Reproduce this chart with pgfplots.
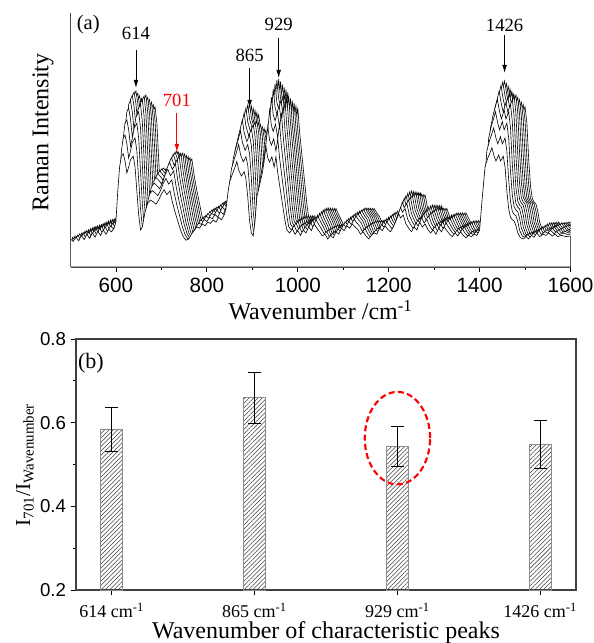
\documentclass[border=0pt]{standalone}
\usepackage{pgfplots}
\pgfplotsset{compat=1.18}
\usepackage{pgfplotstable}
\usepackage{fontspec}
\setmainfont{Liberation Serif}
\newfontfamily\arial{Liberation Sans}
\usetikzlibrary{arrows.meta,patterns.meta}

\pgfplotstableread{
x y
500 30
506 26
512 33
518 27
524 36
530 29
536 38
542 31
548 40
554 33
560 43
566 36
572 45
578 38
584 46
590 42
596 48
600 60
604 110
608 150
612 168
616 172
620 160
624 140
628 150
632 162
638 168
642 150
646 110
650 70
654 45
658 50
664 75
670 90
676 95
682 92
688 88
694 95
700 105
706 112
712 104
719 110
724 92
730 75
736 60
742 45
748 34
754 28
760 30
766 38
772 44
778 50
784 48
790 55
796 52
802 58
808 56
814 62
820 58
826 66
832 62
838 70
842 80
846 105
850 125
856 138
862 150
866 159
870 145
876 135
882 142
886 130
890 100
894 60
898 40
902 35
906 60
910 100
916 120
922 140
926 160
930 184
934 165
938 158
943 167
948 150
952 167
956 140
962 110
968 80
972 60
976 45
982 40
988 47
994 38
1000 44
1006 36
1012 45
1018 40
1024 50
1030 44
1036 55
1042 48
1048 42
1054 35
1060 38
1066 30
1072 36
1078 32
1084 42
1090 38
1096 48
1102 44
1108 52
1114 48
1120 55
1126 50
1132 46
1138 38
1144 42
1150 35
1156 30
1162 36
1168 40
1174 38
1180 48
1186 44
1192 52
1198 46
1204 42
1210 50
1216 60
1222 72
1226 65
1232 70
1238 55
1244 48
1250 42
1256 50
1262 45
1268 58
1274 50
1280 55
1286 46
1292 40
1298 45
1304 38
1310 48
1316 42
1322 50
1328 44
1334 38
1340 34
1346 40
1352 35
1358 42
1364 36
1370 32
1376 36
1382 34
1388 38
1394 36
1400 45
1406 100
1412 150
1418 165
1422 172
1427 182
1432 168
1436 160
1442 170
1446 160
1452 168
1456 150
1460 110
1464 80
1468 66
1472 62
1476 60
1480 52
1484 40
1490 32
1496 30
1502 34
1508 30
1514 36
1520 33
1526 40
1532 34
1540 38
1546 36
1552 40
1560 35
1566 38
1572 34
1580 36
1590 34
1600 35
}\base

\pgfplotstableread{
x y ep em
0 0.585 0.052 0.053
1 0.660 0.061 0.062
2 0.543 0.047 0.047
3 0.548 0.057 0.057
}\ratios

\begin{document}
\begin{tikzpicture}
\path[use as bounding box] (0,0) rectangle (444.75pt,482.25pt);

% ---------- (a) ----------
\begin{axis}[
  at={(52.875pt,282pt)}, anchor=south west,
  scale only axis, width=375pt, height=190.5pt,
  xmin=500, xmax=1600, ymin=0, ymax=254,
  axis x line*=bottom, axis y line*=left,
  ytick=\empty,
  xtick={600,800,1000,1200,1400,1600},
  minor x tick num=1,
  tick align=outside,
  major tick length=3.5pt, minor tick length=2pt,
  tick style={black, line width=0.6pt},
  axis line style={black!70, line width=0.8pt},
  tick label style={font=\arial\fontsize{15.5}{17}\selectfont},
  xticklabel style={yshift=-1pt},
  /pgf/number format/assume math mode=true,
  /pgf/number format/1000 sep={},
  xlabel={Wavenumber /cm\textsuperscript{-1}},
  ylabel={Raman Intensity},
  label style={font=\fontsize{18}{20}\selectfont},
  xlabel style={at={(axis description cs:0.5,-0.17)}, anchor=center},
  ylabel style={at={(axis description cs:-0.055,0.53)}, anchor=center},
  clip mode=individual,
  trace/.style={black, line width=0.45pt, fill=white},
]
\addplot[trace] table[x expr=\thisrow{x}+48, y expr=\thisrow{y}*0.90+9]{\base} \closedcycle;
\addplot[trace] table[x expr=\thisrow{x}+44, y expr=\thisrow{y}*0.92+8]{\base} \closedcycle;
\addplot[trace] table[x expr=\thisrow{x}+40, y expr=\thisrow{y}*0.94+7]{\base} \closedcycle;
\addplot[trace] table[x expr=\thisrow{x}+36, y expr=\thisrow{y}*0.96+6]{\base} \closedcycle;
\addplot[trace] table[x expr=\thisrow{x}+32, y expr=\thisrow{y}*0.98+5]{\base} \closedcycle;
\addplot[trace] table[x expr=\thisrow{x}+28, y expr=\thisrow{y}*1.00+4]{\base} \closedcycle;
\addplot[trace] table[x expr=\thisrow{x}+24, y expr=\thisrow{y}*1.00+3]{\base} \closedcycle;
\addplot[trace] table[x expr=\thisrow{x}+20, y expr=\thisrow{y}*0.98+3]{\base} \closedcycle;
\addplot[trace] table[x expr=\thisrow{x}+16, y expr=\thisrow{y}*0.95+3]{\base} \closedcycle;
\addplot[trace] table[x expr=\thisrow{x}+12, y expr=\thisrow{y}*0.90+4]{\base} \closedcycle;
\addplot[trace] table[x expr=\thisrow{x}+8,  y expr=\thisrow{y}*0.82+6]{\base} \closedcycle;
\addplot[trace] table[x expr=\thisrow{x}+4,  y expr=\thisrow{y}*0.72+8]{\base} \closedcycle;
\addplot[trace] table[x expr=\thisrow{x}+0,  y expr=\thisrow{y}*0.60+10]{\base} \closedcycle;

\node[font=\fontsize{15.5}{17}\selectfont] at (axis cs:539,242) {(a)};
\node[font=\fontsize{14}{16}\selectfont] at (axis cs:644,233.5) {614};
\node[font=\fontsize{14}{16}\selectfont, text=red] at (axis cs:734,167) {701};
\node[font=\fontsize{14}{16}\selectfont] at (axis cs:894,212) {865};
\node[font=\fontsize{14}{16}\selectfont] at (axis cs:958,243) {929};
\node[font=\fontsize{14}{16}\selectfont] at (axis cs:1455,242) {1426};
\draw[-{Latex[length=6pt,width=3.5pt]}, line width=0.6pt] (axis cs:644,217) -- (axis cs:644,179);
\draw[-{Latex[length=6pt,width=3.5pt]}, line width=0.6pt, red] (axis cs:734,154) -- (axis cs:734,115);
\draw[-{Latex[length=6pt,width=3.5pt]}, line width=0.6pt] (axis cs:894,199) -- (axis cs:894,159);
\draw[-{Latex[length=6pt,width=3.5pt]}, line width=0.6pt] (axis cs:958,229) -- (axis cs:958,189);
\draw[-{Latex[length=6pt,width=3.5pt]}, line width=0.6pt] (axis cs:1455,232) -- (axis cs:1455,194);
\end{axis}

% ---------- (b) ----------
\begin{axis}[
  at={(57pt,39.75pt)}, anchor=south west,
  scale only axis, width=375pt, height=188.25pt,
  xmin=-0.25, xmax=3.25, ymin=0.2, ymax=0.8,
  xtick={0,1,2,3},
  xticklabels={{614 cm\textsuperscript{-1}},{865 cm\textsuperscript{-1}},{929 cm\textsuperscript{-1}},{1426 cm\textsuperscript{-1}}},
  ytick={0.2,0.4,0.6,0.8},
  minor y tick num=1,
  yticklabel style={font=\arial\fontsize{14}{16}\selectfont, /pgf/number format/fixed, /pgf/number format/fixed zerofill, /pgf/number format/precision=1},
  xticklabel style={font=\fontsize{13.5}{15}\selectfont, yshift=-2pt},
  /pgf/number format/assume math mode=true,
  xtick pos=bottom, ytick pos=left,
  tick align=outside,
  major tick length=4pt, minor tick length=2.5pt,
  tick style={black, line width=0.6pt},
  axis line style={black!75, line width=0.8pt},
  xlabel={Wavenumber of characteristic peaks},
  ylabel={I\textsubscript{701}/I\textsubscript{Wavenumber}},
  xlabel style={font=\fontsize{18}{20}\selectfont, at={(axis description cs:0.5,-0.171)}, anchor=center},
  ylabel style={font=\fontsize{16}{18}\selectfont, at={(axis description cs:-0.102,0.498)}, anchor=center},
  clip mode=individual,
]
\addplot[ybar, bar width=0.154, draw=black!45, line width=0.5pt,
  pattern={Lines[angle=45, distance=2.3pt, line width=0.4pt]}, pattern color=black!75,
  error bars/.cd, y dir=both, y explicit,
  error bar style={black, line width=0.8pt},
  error mark options={black, line width=0.8pt, mark size=4.9pt, rotate=90}]
  table[x=x, y=y, y error plus=ep, y error minus=em]{\ratios};
\draw[red, line width=1.6pt, dash pattern=on 4.5pt off 2.5pt] (axis cs:2,0.563) ellipse [x radius=24.5pt, y radius=34.7pt];
\node[font=\fontsize{16.5}{18}\selectfont] at (axis cs:-0.145,0.743) {(b)};
\end{axis}
\end{tikzpicture}
\end{document}
